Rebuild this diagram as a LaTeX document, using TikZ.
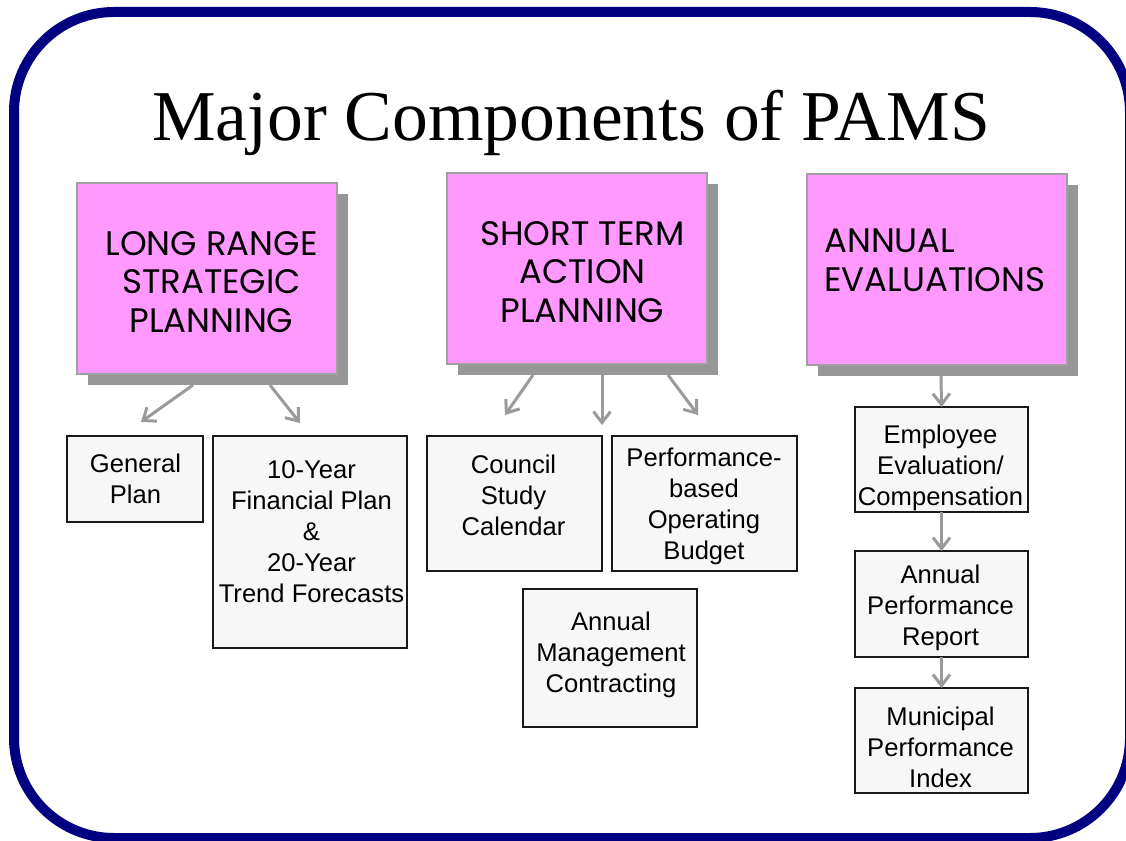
\documentclass[tikz,border=0pt]{standalone}
\usepackage{fontspec}
\setmainfont{Liberation Serif}
\newfontfamily\headfont{Poppins}
\newfontfamily\boxfont{Liberation Sans}
\usetikzlibrary{arrows.meta,calc}
\definecolor{framenavy}{HTML}{000080}
\definecolor{headpink}{HTML}{FF99FF}
\definecolor{shadowgray}{HTML}{969696}
\definecolor{edgegray}{HTML}{A0A0A0}
\definecolor{arrowgray}{HTML}{9A9A9A}
\definecolor{itemfill}{HTML}{F7F7F7}
\begin{document}
\begin{tikzpicture}[x=1pt,y=-1pt,
  headbox/.style={draw=edgegray,line width=1.5pt,fill=headpink,anchor=north west,
    inner sep=0pt,outer sep=0pt,minimum width=260pt,minimum height=191pt},
  headshadow/.style={fill=shadowgray,anchor=north west,inner sep=0pt,outer sep=0pt,
    minimum width=260pt,minimum height=191pt},
  headtext/.style={inner sep=0pt,anchor=base,font=\headfont\fontsize{34}{38.5}\selectfont},
  itembox/.style={draw=black!90,line width=1.3pt,fill=itemfill,anchor=north west,
    inner sep=0pt,outer sep=0pt},
  itemtext/.style={inner sep=0pt,anchor=base,align=center,
    font=\boxfont\fontsize{25.6}{31}\selectfont},
  link/.style={draw=arrowgray,line width=3pt,
    -{Straight Barb[length=11pt,width=17pt,line width=3pt]}}
]
\useasboundingbox (0,0) rectangle (1126,840);
\fill[white] (0,0) rectangle (1126,840);

% rounded navy frame
\draw[framenavy,line width=10pt,rounded corners=100pt] (14,12) rectangle (1130,838);

% title
\node[inner sep=0pt,anchor=base,font=\fontsize{71.5}{80}\selectfont] (title) at (571,140)
  {Major Components of PAMS};

% three heading boxes with drop shadows
\node[headshadow] (lrs) at (88,194) {};
\node[headbox] (lr) at (77,183) {};
\node[headshadow] (sts) at (458,184) {};
\node[headbox] (st) at (447,173) {};
\node[headshadow] (aes) at (818,185) {};
\node[headbox] (ae) at (807,174) {};

% heading texts (coordinates give the baseline of the last line)
\node[headtext,align=center] (lrt) at (211.5,332) {LONG RANGE\\STRATEGIC\\PLANNING};
\node[headtext,align=center] (stt) at (582.5,322) {SHORT TERM\\ACTION\\PLANNING};
\node[headtext,align=left,anchor=base west] (aet) at (824,291) {ANNUAL\\EVALUATIONS};

% component boxes
\node[itembox,minimum width=136pt,minimum height=86pt] (gp) at (67,436) {};
\node[itembox,minimum width=194pt,minimum height=212pt] (fin) at (213,436) {};
\node[itembox,minimum width=175pt,minimum height=135pt] (csc) at (427,436) {};
\node[itembox,minimum width=185pt,minimum height=135pt] (pob) at (612,436) {};
\node[itembox,minimum width=174pt,minimum height=138pt] (amc) at (523,589) {};
\node[itembox,minimum width=173pt,minimum height=105pt] (eec) at (855,407) {};
\node[itembox,minimum width=173pt,minimum height=106pt] (apr) at (855,551) {};
\node[itembox,minimum width=173pt,minimum height=105pt] (mpi) at (855,688) {};

\node[itemtext] (gpt) at (135.5,503) {General\\Plan};
\node[itemtext] (fint) at (311.5,602) {10-Year\\Financial Plan\\\&\\20-Year\\Trend Forecasts};
\node[itemtext] (csct) at (513.5,535) {Council\\Study\\Calendar};
\node[itemtext] (pobt) at (704,559) {Performance-\\based\\Operating\\Budget};
\node[itemtext] (amct) at (611,692) {Annual\\Management\\Contracting};
\node[itemtext] (eect) at (940.5,505) {Employee\\Evaluation/\\Compensation};
\node[itemtext] (aprt) at (940.5,645) {Annual\\Performance\\Report};
\node[itemtext] (mpit) at (940.5,787) {Municipal\\Performance\\Index};

% free arrow ends above the component boxes
\coordinate (tipgp) at (141,422);
\coordinate (tipfin) at (300,423);
\coordinate (tipcsc) at (505,415);
\coordinate (tipamc) at (602,425);
\coordinate (tippob) at (698,415);

% connectors
\draw[link] ([xshift=105pt]lrs.south west) -- (tipgp);
\draw[link] ([xshift=182pt]lrs.south west) -- (tipfin);
\draw[link] ([xshift=75pt]sts.south west) -- (tipcsc);
\draw[link] ([xshift=144pt]sts.south west) -- (tipamc);
\draw[link] ([xshift=210pt]sts.south west) -- (tippob);
\draw[link] ([xshift=123pt]aes.south west) -- (eec.north);
\draw[link] (eec.south) -- (apr.north);
\draw[link] (apr.south) -- (mpi.north);
\end{tikzpicture}
\end{document}
